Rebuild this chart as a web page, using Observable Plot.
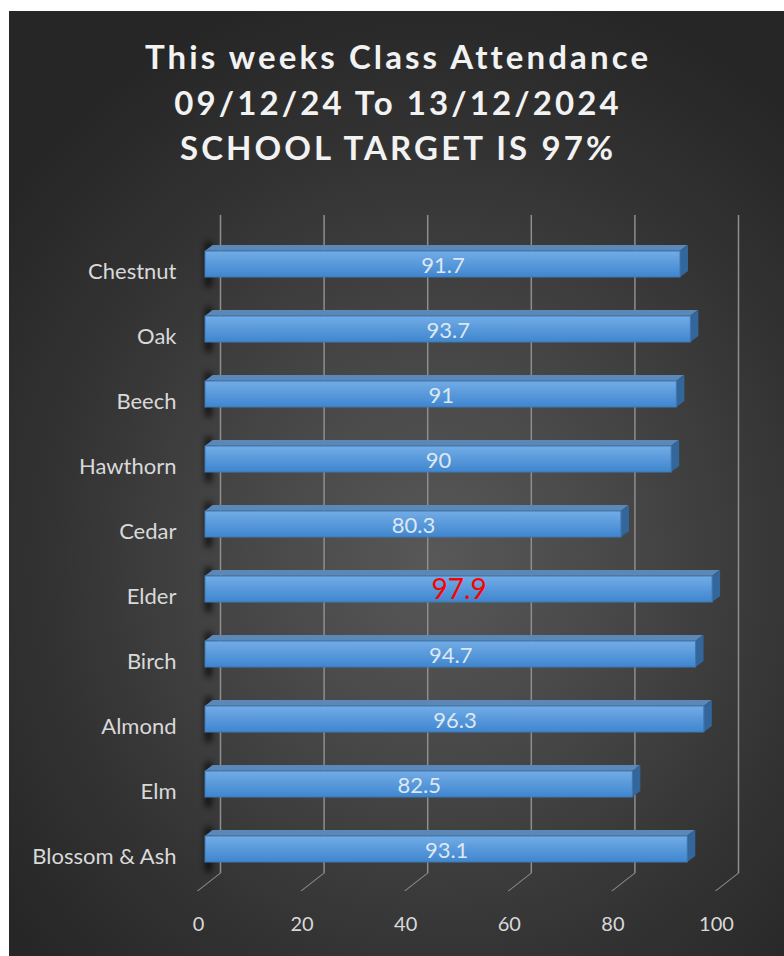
<!DOCTYPE html>
<html>
<head>
<meta charset="utf-8">
<script src="https://cdn.jsdelivr.net/npm/d3@7"></script>
<script src="https://cdn.jsdelivr.net/npm/@observablehq/plot@0.6"></script>
<style>
  html, body { margin: 0; padding: 0; background: #ffffff; }
  #panel {
    position: absolute; left: 9px; top: 11px; width: 775px; height: 945px; overflow: hidden;
    background: radial-gradient(ellipse 70% 62% at 55% 58%, #585858 0%, #474747 35%, #333333 70%, #262626 100%);
    font-family: Lato, sans-serif;
  }
  #title {
    box-sizing: border-box; height: 180px; padding-top: 23px; padding-left: 3px; text-align: center;
    color: #f2f2f2; font-weight: bold; font-size: 33px; line-height: 45.5px; letter-spacing: 3.1px;
  }
  #chart svg { display: block; }
  .top-face rect { transform-box: fill-box; transform-origin: 0 100%; transform: skewX(-53.13deg); }
  .side-face rect { transform-box: fill-box; transform-origin: 0 0; transform: skewY(-36.87deg); }
  .floor line { transform-box: fill-box; transform-origin: 0 0; transform: skewX(-51.95deg); }
  .shadow { filter: blur(3px); }
</style>
</head>
<body>
<svg width="0" height="0" style="position:absolute">
  <defs>
    <linearGradient id="barGrad" x1="0" y1="0" x2="0" y2="1">
      <stop offset="0" stop-color="#72ace6"/>
      <stop offset="1" stop-color="#3f86cf"/>
    </linearGradient>
  </defs>
</svg>
<div id="panel">
  <div id="title">This weeks Class Attendance<br>09/12/24 To 13/12/2024<br>SCHOOL TARGET IS 97%</div>
  <div id="chart"></div>
</div>
<script>
const classes = ["Chestnut", "Oak", "Beech", "Hawthorn", "Cedar", "Elder", "Birch", "Almond", "Elm", "Blossom & Ash"];
const attendance = [91.7, 93.7, 91, 90, 80.3, 97.9, 94.7, 96.3, 82.5, 93.1];
const xTicks = [0, 20, 40, 60, 80, 100];
const target = 97;

const rows = classes.map((name, i) => ({name, value: attendance[i]}));

const chart = Plot.plot({
  width: 775,
  height: 765,
  marginLeft: 196,
  marginRight: 61,
  marginTop: 16.4,
  marginBottom: 51.3,
  x: {domain: [0, 100]},
  y: {domain: classes, padding: 0.6},
  style: {background: "transparent", fontFamily: "Lato, sans-serif", color: "#d9d9d9", overflow: "visible"},
  marks: [
    Plot.ruleX(xTicks, {x: d => d, dx: 15, stroke: "#8e8e8e", strokeWidth: 1.5, insetTop: 7.6, insetBottom: 31.7}),
    Plot.ruleX(xTicks, {x: d => d, dx: 15, stroke: "#8e8e8e", strokeWidth: 1.5, insetTop: 665.6, insetBottom: 13.7, className: "floor"}),
    Plot.tickX(rows, {x: 0, y: "name", dx: 3, stroke: "#000", strokeWidth: 6, strokeOpacity: 0.8, insetTop: -9, insetBottom: -10, className: "shadow"}),
    Plot.barX(rows, {x1: 0, x2: "value", y: "name", fill: "#5b88b7", insetBottom: 20.3, dy: -6, className: "top-face"}),
    Plot.barX(rows, {x1: "value", x2: "value", y: "name", fill: "#33679c", insetRight: -8, className: "side-face"}),
    Plot.barX(rows, {x1: 0, x2: "value", y: "name", fill: "url(#barGrad)", stroke: "#3f78b3", strokeWidth: 1}),
    Plot.text(rows.filter(d => d.value < target), {x: d => d.value / 2, y: "name", text: d => String(d.value), fill: "#dde8f3", fontSize: 22, dy: 1}),
    Plot.text(rows.filter(d => d.value >= target), {x: d => d.value / 2, y: "name", text: d => String(d.value), fill: "#ff0000", fontSize: 28, dy: 1}),
    Plot.axisY({tickSize: 0, tickPadding: 29, dy: 7, fontSize: 22, fill: "#d9d9d9", label: null}),
    Plot.axisX({ticks: xTicks, tickSize: 0, tickPadding: 12, dx: -7, fontSize: 20, fill: "#d9d9d9", label: null})
  ]
});
document.getElementById("chart").appendChild(chart);
</script>
</body>
</html>
